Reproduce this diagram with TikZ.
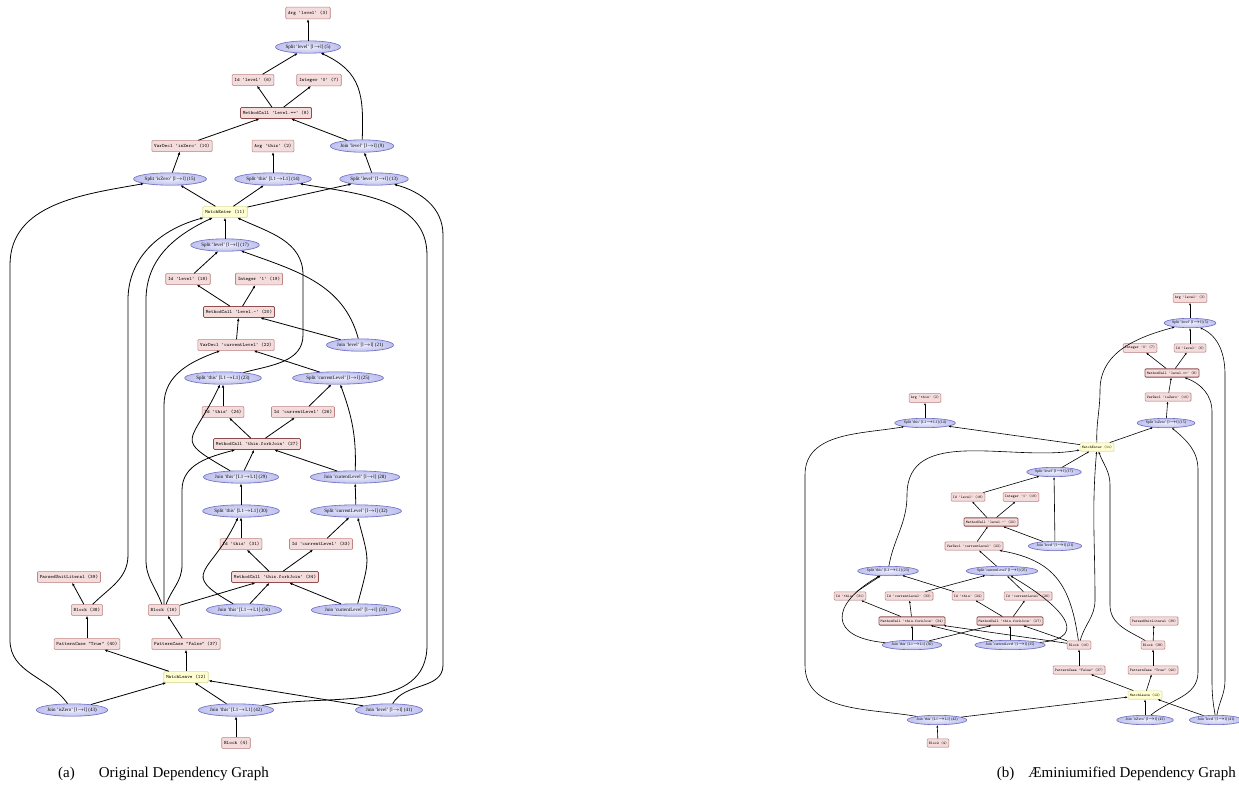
\documentclass[tikz,border=0pt]{standalone}
\usepackage{fontspec}
\setmainfont{Liberation Serif}
\usetikzlibrary{arrows.meta, shapes.geometric, shadows}

\definecolor{boxfill}{HTML}{F4DCDC}
\definecolor{boxline}{HTML}{C08484}
\definecolor{callline}{HTML}{8E4E4E}
\definecolor{permfill}{HTML}{BFC1EF}
\definecolor{permline}{HTML}{6E6EC2}
\definecolor{matchfill}{HTML}{FFFFD2}
\definecolor{matchline}{HTML}{DEDE9C}

% base font size of the graph labels
\newcommand\gfs{5}

\tikzset{
  opbox/.style={rectangle, rounded corners=1pt, draw=boxline, fill=boxfill, line width=0.6pt,
    font=\ttfamily\fontsize{\gfs}{\gfs}\selectfont, inner xsep=0.46*\gfs pt, inner ysep=0.7*\gfs pt,
    drop shadow={shadow xshift=0.4pt, shadow yshift=-0.4pt, opacity=0.25}},
  callbox/.style={opbox, draw=callline, line width=0.8pt},
  matchbox/.style={opbox, draw=matchline, fill=matchfill},
  perm/.style={ellipse, draw=permline, inner color=permfill!30, outer color=permfill, line width=0.6pt,
    font=\fontsize{\gfs}{\gfs}\selectfont, inner xsep=0.1*\gfs pt, inner ysep=0.42*\gfs pt,
    drop shadow={shadow xshift=0.4pt, shadow yshift=-0.4pt, opacity=0.25}},
  dep/.style={-{Latex[length=3.2pt,width=2.6pt]}, line width=0.8pt},
  caption/.style={font=\fontsize{15}{17}\selectfont, inner sep=0pt}
}

\begin{document}
\begin{tikzpicture}[x=1pt, y=-1pt]
  \useasboundingbox (0,0) rectangle (1239,791);

  % (a) original graph
  \begin{scope}
    \node[opbox] (a3) at (308,13) {Arg 'level' (3)};
    \node[perm] (a5) at (308,47) {Split 'level' [l$\to$l] (5)};
    \node[opbox] (a6) at (253,80) {Id 'level' (6)};
    \node[opbox] (a7) at (319,80) {Integer '0' (7)};
    \node[callbox] (a8) at (276,113) {MethodCall 'level.==' (8)};
    \node[opbox] (a10) at (182,146) {VarDecl 'isZero' (10)};
    \node[opbox] (a2) at (273,146) {Arg 'this' (2)};
    \node[perm] (a9) at (362,146) {Join 'level' [l$\to$l] (9)};
    \node[perm] (a15) at (170,179) {Split 'isZero' [l$\to$l] (15)};
    \node[perm] (a14) at (273,179) {Split 'this' [L1$\to$L1] (14)};
    \node[perm] (a13) at (374,179) {Split 'level' [l$\to$l] (13)};
    \node[matchbox] (a11) at (225,212) {MatchEnter (11)};
    \node[perm] (a17) at (225,245) {Split 'level' [l$\to$l] (17)};
    \node[opbox] (a18) at (188,279) {Id 'level' (18)};
    \node[opbox] (a19) at (259,279) {Integer '1' (19)};
    \node[callbox] (a20) at (239,312) {MethodCall 'level.-' (20)};
    \node[opbox] (a22) at (236,345) {VarDecl 'currentLevel' (22)};
    \node[perm] (a21) at (360,345) {Join 'level' [l$\to$l] (21)};
    \node[perm] (a23) at (223,378) {Split 'this' [L1$\to$L1] (23)};
    \node[perm] (a25) at (338,378) {Split 'currentLevel' [l$\to$l] (25)};
    \node[opbox] (a24) at (223,412) {Id 'this' (24)};
    \node[opbox] (a26) at (303,412) {Id 'currentLevel' (26)};
    \node[callbox] (a27) at (257,444) {MethodCall 'this.forkJoin' (27)};
    \node[perm] (a29) at (241,477) {Join 'this' [L1$\to$L1] (29)};
    \node[perm] (a28) at (355,477) {Join 'currentLevel' [l$\to$l] (28)};
    \node[perm] (a30) at (241,511) {Split 'this' [L1$\to$L1] (30)};
    \node[perm] (a32) at (356,511) {Split 'currentLevel' [l$\to$l] (32)};
    \node[opbox] (a31) at (241,544) {Id 'this' (31)};
    \node[opbox] (a33) at (321,544) {Id 'currentLevel' (33)};
    \node[callbox] (a34) at (275,577) {MethodCall 'this.forkJoin' (34)};
    \node[opbox] (a39) at (69,577) {ParsedUnitLiteral (39)};
    \node[opbox] (a38) at (87,610) {Block (38)};
    \node[opbox] (a16) at (164,610) {Block (16)};
    \node[perm] (a36) at (244,610) {Join 'this' [L1$\to$L1] (36)};
    \node[perm] (a35) at (356,610) {Join 'currentLevel' [l$\to$l] (35)};
    \node[opbox] (a40) at (87,644) {PatternCase "True" (40)};
    \node[opbox] (a37) at (186,644) {PatternCase "False" (37)};
    \node[matchbox] (a12) at (186,677) {MatchLeave (12)};
    \node[perm] (a43) at (72,710) {Join 'isZero' [l$\to$l] (43)};
    \node[perm] (a42) at (236,710) {Join 'this' [L1$\to$L1] (42)};
    \node[perm] (a41) at (389,710) {Join 'level' [l$\to$l] (41)};
    \node[opbox] (a4) at (236,743) {Block (4)};

    \draw[dep] (a5) -- (a3);
    \draw[dep] (a6) -- (a5);
    \draw[dep] (a8) -- (a6);
    \draw[dep] (a8) -- (a7);
    \draw[dep] (a10) -- (a8);
    \draw[dep] (a9) -- (a8);
    \draw[dep] (a13) -- (a9);
    \draw[dep] (a14) -- (a2);
    \draw[dep] (a15) -- (a10);
    \draw[dep] (a11) -- (a15);
    \draw[dep] (a11) -- (a14);
    \draw[dep] (a11) -- (a13);
    \draw[dep] (a17) -- (a11);
    \draw[dep] (a18) -- (a17);
    \draw[dep] (a20) -- (a18);
    \draw[dep] (a20) -- (a19);
    \draw[dep] (a21) -- (a20);
    \draw[dep] (a22) -- (a20);
    \draw[dep] (a25) -- (a22);
    \draw[dep] (a24) -- (a23);
    \draw[dep] (a26) -- (a25);
    \draw[dep] (a27) -- (a24);
    \draw[dep] (a27) -- (a26);
    \draw[dep] (a29) -- (a27);
    \draw[dep] (a28) -- (a27);
    \draw[dep] (a30) -- (a29);
    \draw[dep] (a32) -- (a28);
    \draw[dep] (a31) -- (a30);
    \draw[dep] (a33) -- (a32);
    \draw[dep] (a34) -- (a31);
    \draw[dep] (a34) -- (a33);
    \draw[dep] (a36) -- (a34);
    \draw[dep] (a35) -- (a34);
    \draw[dep] (a16) -- (a34);
    \draw[dep] (a38) -- (a39);
    \draw[dep] (a40) -- (a38);
    \draw[dep] (a37) -- (a16);
    \draw[dep] (a12) -- (a40);
    \draw[dep] (a12) -- (a37);
    \draw[dep] (a43) -- (a12);
    \draw[dep] (a42) -- (a12);
    \draw[dep] (a41) -- (a12);
    \draw[dep] (a4) -- (a42);

    % bent edges
    \draw[dep] (a9) to[out=88,in=-25,looseness=1.2] (a5);
    \draw[dep] (a43) to[out=125,in=-90] (10,640) -- (10,265) to[out=90,in=190] (a15);
    \draw[dep] (a42) to[out=10,in=-90] (427,645) -- (427,255) to[out=90,in=-10] (a14);
    \draw[dep] (a41) to[out=60,in=-90] (443,665) -- (443,235) to[out=90,in=-15] (a13);
    \draw[dep] (a38) to[out=45,in=-90] (128,555) -- (128,300) to[out=90,in=195] (a11);
    \draw[dep] (a16) to[out=110,in=-90] (146,560) -- (146,300) to[out=90,in=205] (a11);
    \draw[dep] (a16.north) -- (164,405) to[out=90,in=200] (a22);
    \draw[dep] (a16) to[out=70,in=-90] (182,565) -- (182,490) to[out=90,in=195] (a27);
    \draw[dep] (a23) to[out=15,in=-90] (303,335) -- (303,275) to[out=90,in=-25] (a11);
    \draw[dep] (a21) to[out=105,in=-20] (a17);
    \draw[dep] (a29) to[out=150,in=-115,looseness=2] (a23);
    \draw[dep] (a28) to[out=88,in=-70] (a25);
    \draw[dep] (a36) to[out=150,in=-115,looseness=1.9] (a30);
    \draw[dep] (a35) to[out=75,in=-75,looseness=1.4] (a32);
  \end{scope}

  % (b) aeminiumified graph, drawn smaller
  \begin{scope}[dep/.style={-{Latex[length=2.5pt,width=2pt]}, line width=0.6pt}]
    \renewcommand\gfs{3.8}
    \node[opbox] (b3) at (1190,298) {Arg 'level' (3)};
    \node[perm] (b5) at (1190,323) {Split 'level' [l$\to$l] (5)};
    \node[opbox] (b7) at (1140,348) {Integer '0' (7)};
    \node[opbox] (b6) at (1190,348) {Id 'level' (6)};
    \node[callbox] (b8) at (1172,373) {MethodCall 'level.==' (8)};
    \node[opbox] (b10) at (1168,397) {VarDecl 'isZero' (10)};
    \node[perm] (b15) at (1166,423) {Split 'isZero' [l$\to$l] (15)};
    \node[opbox] (b2) at (925,398) {Arg 'this' (2)};
    \node[perm] (b14) at (925,423) {Split 'this' [L1$\to$L1] (14)};
    \node[matchbox] (b11) at (1097,447) {MatchEnter (11)};
    \node[perm] (b17) at (1054,472) {Split 'level' [l$\to$l] (17)};
    \node[opbox] (b18) at (968,497) {Id 'level' (18)};
    \node[opbox] (b19) at (1021,497) {Integer '1' (19)};
    \node[callbox] (b20) at (991,522) {MethodCall 'level.-' (20)};
    \node[opbox] (b22) at (974,546) {VarDecl 'currentLevel' (22)};
    \node[perm] (b21) at (1055,546) {Join 'level' [l$\to$l] (21)};
    \node[perm] (b23) at (888,571) {Split 'this' [L1$\to$L1] (23)};
    \node[perm] (b25) at (1002,571) {Split 'currentLevel' [l$\to$l] (25)};
    \node[opbox] (b31) at (850,596) {Id 'this' (31)};
    \node[opbox] (b33) at (909,596) {Id 'currentLevel' (33)};
    \node[opbox] (b24) at (968,596) {Id 'this' (24)};
    \node[opbox] (b26) at (1028,596) {Id 'currentLevel' (26)};
    \node[callbox] (b34) at (912,621) {MethodCall 'this.forkJoin' (34)};
    \node[callbox] (b27) at (1010,621) {MethodCall 'this.forkJoin' (27)};
    \node[opbox] (b39) at (1154,621) {ParsedUnitLiteral (39)};
    \node[perm] (b36) at (912,645) {Join 'this' [L1$\to$L1] (36)};
    \node[perm] (b35) at (1010,645) {Join 'currentLevel' [l$\to$l] (35)};
    \node[opbox] (b16) at (1079,645) {Block (16)};
    \node[opbox] (b38) at (1153,645) {Block (38)};
    \node[opbox] (b37) at (1079,670) {PatternCase "False" (37)};
    \node[opbox] (b40) at (1153,670) {PatternCase "True" (40)};
    \node[matchbox] (b12) at (1145,695) {MatchLeave (12)};
    \node[perm] (b42) at (937,720) {Join 'this' [L1$\to$L1] (42)};
    \node[perm] (b43) at (1145,720) {Join 'isZero' [l$\to$l] (43)};
    \node[perm] (b41) at (1216,720) {Join 'level' [l$\to$l] (41)};
    \node[opbox] (b4) at (938,743) {Block (4)};

    \draw[dep] (b5) -- (b3);
    \draw[dep] (b6) -- (b5);
    \draw[dep] (b8) -- (b7);
    \draw[dep] (b8) -- (b6);
    \draw[dep] (b10) -- (b8);
    \draw[dep] (b15) -- (b10);
    \draw[dep] (b11) -- (b15);
    \draw[dep] (b14) -- (b2);
    \draw[dep] (b11) -- (b14);
    \draw[dep] (b17) -- (b11);
    \draw[dep] (b18) -- (b17);
    \draw[dep] (b21) -- (b17);
    \draw[dep] (b20) -- (b18);
    \draw[dep] (b20) -- (b19);
    \draw[dep] (b21) -- (b20);
    \draw[dep] (b22) -- (b20);
    \draw[dep] (b25) -- (b22);
    \draw[dep] (b31) -- (b23);
    \draw[dep] (b24) -- (b23);
    \draw[dep] (b33) -- (b25);
    \draw[dep] (b26) -- (b25);
    \draw[dep] (b34) -- (b31);
    \draw[dep] (b34) -- (b33);
    \draw[dep] (b27) -- (b24);
    \draw[dep] (b27) -- (b26);
    \draw[dep] (b36) -- (b34);
    \draw[dep] (b36) -- (b27);
    \draw[dep] (b35) -- (b27);
    \draw[dep] (b35) -- (b34);
    \draw[dep] (b16) -- (b34);
    \draw[dep] (b16) -- (b27);
    \draw[dep] (b37) -- (b16);
    \draw[dep] (b40) -- (b38);
    \draw[dep] (b38) -- (b39);
    \draw[dep] (b12) -- (b37);
    \draw[dep] (b12) -- (b40);
    \draw[dep] (b42) -- (b12);
    \draw[dep] (b43) -- (b12);
    \draw[dep] (b41) -- (b12);
    \draw[dep] (b4) -- (b42);

    % bent edges
    \draw[dep] (b11) to[out=92,in=-90] (1100,390) to[out=90,in=195] (b5);
    \draw[dep] (b41) to[out=80,in=-90] (1225,680) -- (1225,375) to[out=90,in=-25] (b5);
    \draw[dep] (b41) to[out=100,in=-90] (1212,680) -- (1212,412) to[out=90,in=-20] (b8);
    \draw[dep] (b43) to[out=40,in=-90] (1198,672) -- (1198,470) to[out=90,in=-40] (b15);
    \draw[dep] (b42) to[out=170,in=-90] (805,665) -- (805,475) to[out=90,in=190] (b14);
    \draw[dep] (b23) to[out=80,in=-90] (907,495) to[out=90,in=190] (b11);
    \draw[dep] (b16) to[out=75,in=-90] (1095,600) to[out=90,in=-95] (b11);
    \draw[dep] (b38) to[out=150,in=-90] (1110,605) -- (1110,485) to[out=90,in=-70] (b11);
    \draw[dep] (b16) to[out=98,in=-10,looseness=1.2] (b22);
    \draw[dep] (b36) to[out=175,in=210,looseness=2.2] (b23);
    \draw[dep] (b35) to[out=5,in=-30,looseness=1.9] (b25);
  \end{scope}

  % captions
  \node[caption, anchor=base west] (capa) at (58,777) {(a)\hspace{24pt}Original Dependency Graph};
  \node[caption, anchor=base east] (capb) at (1236,777) {(b)\hspace{14pt}Æminiumified Dependency Graph};
\end{tikzpicture}
\end{document}
